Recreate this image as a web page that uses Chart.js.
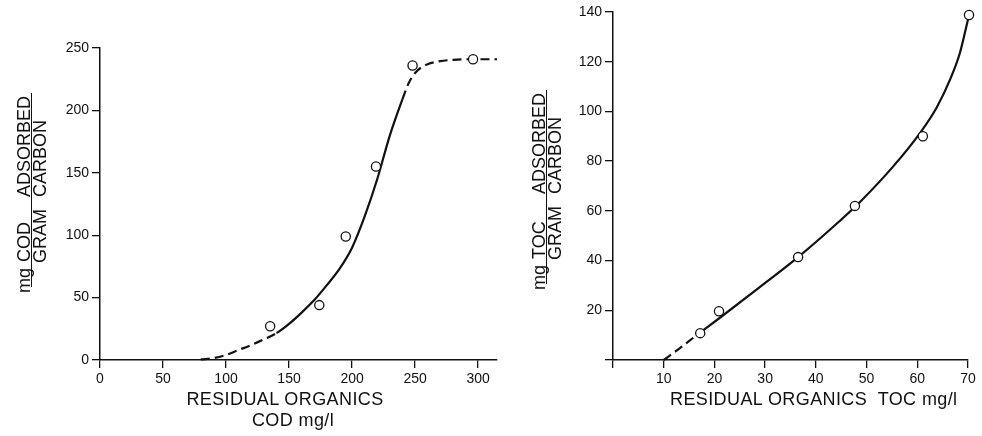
<!DOCTYPE html>
<html><head><meta charset="utf-8">
<script src="https://cdn.jsdelivr.net/npm/chart.js@4"></script>
<style>
html,body{margin:0;padding:0;background:#fff}
body{width:982px;height:436px;overflow:hidden;position:relative;font-family:"Liberation Sans",Arial,sans-serif;color:#111}
#w1{position:absolute;left:0;top:0;width:520px;height:436px}
#w2{position:absolute;left:520px;top:0;width:462px;height:436px}
.t{position:absolute;font-size:18px;line-height:18px;white-space:pre;letter-spacing:0.4px}
.rot{position:absolute;width:200px;height:32px;transform:rotate(-90deg);transform-origin:50% 50%}
.rot span{position:absolute;font-size:18px;line-height:18px;white-space:pre}
.rot .bar{position:absolute;height:0;border-top:1.4px solid #111}
</style></head><body>
<div id="w1"><canvas id="c1" width="520" height="436"></canvas></div>
<div id="w2"><canvas id="c2" width="462" height="436"></canvas></div>

<div class="t" style="left:285px;top:390px;transform:translateX(-50%)">RESIDUAL ORGANICS</div>
<div class="t" style="left:293px;top:411px;transform:translateX(-50%)">COD mg/l</div>
<div class="t" style="left:670px;top:390px">RESIDUAL ORGANICS  TOC mg/l</div>

<div class="rot" style="left:-69px;top:177px">
  <span style="left:0;top:0">mg</span>
  <span style="left:31px;top:0">COD</span>
  <span style="left:96px;top:0">ADSORBED</span>
  <div class="bar" style="left:6px;width:194px;top:16px"></div>
  <span style="left:30px;top:16px">GRAM</span>
  <span style="left:96px;top:16px">CARBON</span>
</div>
<div class="rot" style="left:446px;top:174px">
  <span style="left:0;top:0">mg</span>
  <span style="left:31px;top:0">TOC</span>
  <span style="left:96px;top:0">ADSORBED</span>
  <div class="bar" style="left:6px;width:194px;top:16px"></div>
  <span style="left:30px;top:16px">GRAM</span>
  <span style="left:96px;top:16px">CARBON</span>
</div>

<script>
// ---- data: COD chart (left) ----
const codPointsX = [135, 174, 195, 219, 248, 296];
const codPointsY = [27, 44, 99, 155, 236, 241];
const codCurveX = [80, 90, 100, 110, 120, 130, 140, 150, 160, 170, 180, 190, 200, 210, 220, 230, 240, 245, 250, 255, 260, 270, 280, 290, 300, 315];
const codCurveY = [0.5, 1.5, 4, 8, 12, 16.5, 21.5, 29, 38, 48, 60, 73, 90, 115, 145, 180, 209, 222, 230, 234.5, 237, 239.5, 240.5, 241, 241, 241];
const codXTicks = [0, 50, 100, 150, 200, 250, 300];
const codYTicks = [0, 50, 100, 150, 200, 250];

// ---- data: TOC chart (right) ----
const tocPointsX = [17.2, 20.9, 36.5, 47.7, 61.1, 70.2];
const tocPointsY = [10.8, 19.6, 41.4, 62, 90, 138.8];
const tocCurveX = [10, 13, 16.5, 21.4, 28.3, 36.5, 43.1, 48.9, 55.3, 60.6, 63.8, 66.5, 68.4, 70];
const tocCurveY = [0, 4.5, 10, 17.5, 28.3, 41.4, 53, 64, 78, 91.5, 101.5, 113, 123.5, 137];
const tocXTicks = [0, 10, 20, 30, 40, 50, 60, 70];
const tocYTicks = [0, 20, 40, 60, 80, 100, 120, 140];

// ---- styling ----
const INK = '#111';
const DASH = [9, 5];
const COD_SOLID_FROM = 140, COD_SOLID_TO = 240;
const TOC_SOLID_FROM = 16.5;

const pts = (xs, ys) => xs.map((x, i) => ({x, y: ys[i]}));

function axis(min, max, tickArr, hideZero, size, isX) {
  return {
    type: 'linear', min, max,
    afterBuildTicks: s => { s.ticks = tickArr.map(v => ({value: v})); },
    afterFit: s => { if (isX) s.height = size; else s.width = size; },
    grid: {display: true, drawOnChartArea: false, drawTicks: true, tickLength: 8, color: INK, lineWidth: 1.3},
    border: {display: true, color: INK, width: 1.5},
    ticks: {
      color: INK, padding: 3, maxRotation: 0, autoSkip: false,
      font: {family: '"Liberation Sans", Arial, sans-serif', size: 14},
      callback: v => (hideZero && v === 0) ? '' : String(v)
    }
  };
}

function makeChart(id, pX, pY, cX, cY, dashFn, xa, ya, padding) {
  return new Chart(document.getElementById(id), {
    type: 'scatter',
    data: {
      datasets: [
        {
          data: pts(pX, pY), showLine: false, clip: false,
          pointRadius: 4.6, pointBackgroundColor: '#fff', pointBorderColor: INK, pointBorderWidth: 1.3
        },
        {
          data: pts(cX, cY), showLine: true, pointRadius: 0, clip: false,
          borderColor: INK, borderWidth: 2.2, cubicInterpolationMode: 'monotone',
          segment: {borderDash: dashFn}
        }
      ]
    },
    options: {
      responsive: false, animation: false, devicePixelRatio: 1,
      layout: {padding},
      plugins: {legend: {display: false}, tooltip: {enabled: false}},
      scales: {x: xa, y: ya}
    }
  });
}

makeChart('c1', codPointsX, codPointsY, codCurveX, codCurveY,
  ctx => (ctx.p0.parsed.x < COD_SOLID_FROM || ctx.p0.parsed.x >= COD_SOLID_TO) ? DASH : undefined,
  axis(0, 315, codXTicks, false, 30, true),
  axis(0, 250, codYTicks, false, 100, false),
  {left: 0, top: 48, right: 23, bottom: 46});

makeChart('c2', tocPointsX, tocPointsY, tocCurveX, tocCurveY,
  ctx => (ctx.p0.parsed.x < TOC_SOLID_FROM) ? DASH : undefined,
  axis(0, 70, tocXTicks, true, 30, true),
  axis(0, 140, tocYTicks, true, 93, false),
  {left: 0, top: 12, right: 14, bottom: 46});
</script>
</body></html>
